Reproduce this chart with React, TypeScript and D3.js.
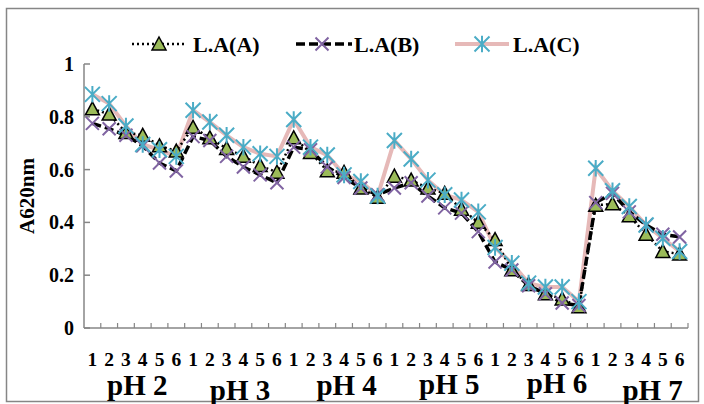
import React from "react";
import * as d3 from "d3";

const groups = ["pH 2", "pH 3", "pH 4", "pH 5", "pH 6", "pH 7"];
const subLabels = ["1", "2", "3", "4", "5", "6"];
const yTicks = [0, 0.2, 0.4, 0.6, 0.8, 1];
const yTickLabels = ["0", "0.2", "0.4", "0.6", "0.8", "1"];
const seriesNames = ["L.A(A)", "L.A(B)", "L.A(C)"];

const seriesA = [
  0.83, 0.81, 0.74, 0.73, 0.69, 0.67,
  0.76, 0.72, 0.68, 0.65, 0.615, 0.59,
  0.72, 0.665, 0.595, 0.59, 0.53, 0.495,
  0.575, 0.56, 0.53, 0.51, 0.45, 0.4,
  0.335, 0.22, 0.165, 0.13, 0.11, 0.08,
  0.465, 0.47, 0.425, 0.355, 0.29, 0.28,
];
const seriesB = [
  0.775, 0.755, 0.73, 0.69, 0.625, 0.595,
  0.725, 0.71, 0.65, 0.61, 0.58, 0.55,
  0.685, 0.675, 0.61, 0.57, 0.53, 0.505,
  0.53, 0.55, 0.5, 0.455, 0.435, 0.365,
  0.25, 0.22, 0.16, 0.13, 0.095, 0.085,
  0.475, 0.51, 0.44, 0.39, 0.355, 0.345,
];
const seriesC = [
  0.885, 0.85, 0.765, 0.695, 0.675, 0.65,
  0.825, 0.78, 0.73, 0.685, 0.66, 0.65,
  0.79, 0.685, 0.655, 0.58, 0.555, 0.5,
  0.71, 0.64, 0.56, 0.505, 0.485, 0.44,
  0.305, 0.245, 0.17, 0.155, 0.155, 0.1,
  0.605, 0.52, 0.46, 0.39, 0.34, 0.29,
];

const W = 704;
const H = 404;
const plot = { left: 84, right: 688, top: 64, bottom: 328 };
const FONT = "'Liberation Serif', 'Times New Roman', serif";
const groupDx = [3, 5, 11, 13, 20, 15];
const groupBaseline = [395, 400, 395, 394, 393, 400];

const categories = groups.flatMap((g) => subLabels.map((s) => `${g}-${s}`));

function Triangle({ x, y }: { x: number; y: number }) {
  const s = 7;
  return (
    <path
      d={`M${x},${y - s} L${x + s},${y + s * 0.85} L${x - s},${y + s * 0.85} Z`}
      fill="#9bbb59"
      stroke="#000"
      strokeWidth={1.5}
    />
  );
}
function XMark({ x, y }: { x: number; y: number }) {
  const s = 6.5;
  return (
    <path
      d={`M${x - s},${y - s} L${x + s},${y + s} M${x - s},${y + s} L${x + s},${y - s}`}
      stroke="#8064a2"
      strokeWidth={2}
      fill="none"
    />
  );
}
function Star({ x, y }: { x: number; y: number }) {
  const s = 7.5;
  return (
    <path
      d={`M${x - s},${y - s} L${x + s},${y + s} M${x - s},${y + s} L${x + s},${y - s} M${x},${y - s * 1.1} L${x},${y + s * 1.1}`}
      stroke="#4bacc6"
      strokeWidth={2}
      fill="none"
    />
  );
}

export default function App() {
  const x = d3
    .scaleBand<string>()
    .domain(categories)
    .range([plot.left, plot.right])
    .paddingInner(0)
    .paddingOuter(0);
  const y = d3.scaleLinear().domain([0, 1]).range([plot.bottom, plot.top]);
  const cx = (i: number) => (x(categories[i]) as number) + x.bandwidth() / 2;

  const line = d3
    .line<number>()
    .x((_, i) => cx(i))
    .y((d) => y(d));

  const groupW = x.bandwidth() * subLabels.length;

  return (
    <svg
      width={W}
      height={H}
      style={{ position: "absolute", left: 0, top: 0, background: "#fff" }}
      fontFamily={FONT}
    >
      <rect x={0} y={0} width={W} height={H} fill="#fff" />
      <rect x={6.5} y={8.5} width={692} height={393} fill="none" stroke="#868686" strokeWidth={1.5} />

      {/* axes */}
      <line x1={plot.left} x2={plot.left} y1={plot.top} y2={plot.bottom} stroke="#868686" strokeWidth={1.5} />
      <line x1={plot.left} x2={plot.right} y1={plot.bottom} y2={plot.bottom} stroke="#868686" strokeWidth={1.5} />
      {yTicks.map((t, i) => (
        <g key={t}>
          <line x1={plot.left} x2={plot.left + 6} y1={y(t)} y2={y(t)} stroke="#868686" strokeWidth={1.5} />
          <text
            x={plot.left - 10}
            y={y(t)}
            dy="0.35em"
            textAnchor="end"
            fontSize={20}
            fontWeight="bold"
          >
            {yTickLabels[i]}
          </text>
        </g>
      ))}
      {categories.map((c) => (
        <line
          key={c}
          x1={(x(c) as number) + x.bandwidth()}
          x2={(x(c) as number) + x.bandwidth()}
          y1={plot.bottom}
          y2={plot.bottom - 5}
          stroke="#868686"
          strokeWidth={1.2}
        />
      ))}
      {categories.map((c, i) => (
        <text key={"l" + c} x={cx(i)} y={366} textAnchor="middle" fontSize={19.5} fontWeight="bold">
          {subLabels[i % subLabels.length]}
        </text>
      ))}
      {groups.map((g, gi) => (
        <text
          key={g}
          x={plot.left + groupW * gi + groupW / 2 + groupDx[gi]}
          y={groupBaseline[gi]}
          textAnchor="middle"
          fontSize={29}
          fontWeight="bold"
        >
          {g}
        </text>
      ))}
      <text
        transform={`translate(34, ${(plot.top + plot.bottom) / 2}) rotate(-90)`}
        textAnchor="middle"
        fontSize={21}
        fontWeight="bold"
      >
        A620nm
      </text>

      {/* lines */}
      <path d={line(seriesC) || ""} fill="none" stroke="#e6b9b8" strokeWidth={4} />
      <path d={line(seriesA) || ""} fill="none" stroke="#000" strokeWidth={2.5} strokeDasharray="2,3" />
      <path d={line(seriesB) || ""} fill="none" stroke="#000" strokeWidth={3.5} strokeDasharray="9,4" />

      {/* markers */}
      {seriesA.map((v, i) => (
        <Triangle key={"a" + i} x={cx(i)} y={y(v)} />
      ))}
      {seriesB.map((v, i) => (
        <XMark key={"b" + i} x={cx(i)} y={y(v)} />
      ))}
      {seriesC.map((v, i) => (
        <Star key={"c" + i} x={cx(i)} y={y(v)} />
      ))}

      {/* legend */}
      <g>
        <line x1={132} x2={185} y1={44} y2={44} stroke="#000" strokeWidth={2.5} strokeDasharray="2,3" />
        <Triangle x={159} y={44} />
        <text x={193} y={44} dy="0.35em" fontSize={22} fontWeight="bold">{seriesNames[0]}</text>
        <line x1={296} x2={352} y1={44} y2={44} stroke="#000" strokeWidth={3.5} strokeDasharray="9,4" />
        <XMark x={322} y={44} />
        <text x={354} y={44} dy="0.35em" fontSize={22} fontWeight="bold">{seriesNames[1]}</text>
        <line x1={455} x2={509} y1={44} y2={44} stroke="#e6b9b8" strokeWidth={4} />
        <Star x={482} y={44} />
        <text x={513} y={44} dy="0.35em" fontSize={22} fontWeight="bold">{seriesNames[2]}</text>
      </g>
    </svg>
  );
}
